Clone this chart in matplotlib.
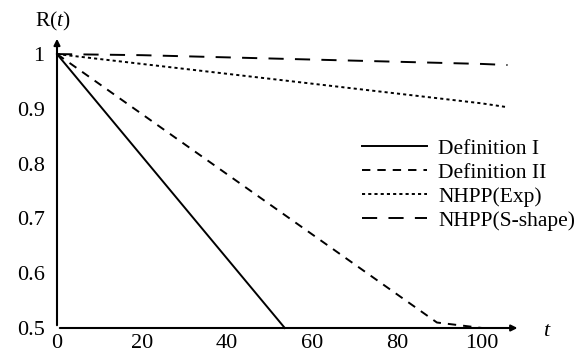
import matplotlib
matplotlib.use("Agg")
import matplotlib.pyplot as plt

plt.rcParams['font.family'] = ['Liberation Serif', 'DejaVu Serif']
plt.rcParams['mathtext.fontset'] = 'custom'
plt.rcParams['mathtext.rm'] = 'Liberation Serif'
plt.rcParams['mathtext.it'] = 'Liberation Serif:italic'

# values
t_def1 = [0, 53.6]
r_def1 = [1.0, 0.5]
t_def2 = [0, 89.4, 100]
r_def2 = [1.0, 0.51, 0.50]
t_nhpp = [0, 20, 40, 60, 80, 100, 106]
r_exp = [1.0, 0.982, 0.964, 0.946, 0.928, 0.910, 0.903]
r_sshape = [1.0, 0.998, 0.994, 0.990, 0.986, 0.982, 0.980]

xticks = [0, 20, 40, 60, 80, 100]
yticks = [0.5, 0.6, 0.7, 0.8, 0.9, 1.0]
yticklabels = ['0.5', '0.6', '0.7', '0.8', '0.9', '1']

W, H = 579, 362
fig = plt.figure(figsize=(W/100, H/100), dpi=100)
ax = fig.add_axes([57/W, 1-328/H, 450.5/W, (328-36)/H])

lw = 1.4
ax.plot(t_def1, r_def1, color='black', lw=lw, label='Definition I', clip_on=False)
ax.plot(t_def2, r_def2, color='black', lw=lw, linestyle=(0, (4.3, 3.6)), label='Definition II', clip_on=False)
ax.plot(t_nhpp, r_exp, color='black', lw=lw, linestyle=(0, (1.6, 1.6)), label='NHPP(Exp)', clip_on=False)
ax.plot(t_nhpp, r_sshape, color='black', lw=lw, linestyle=(0, (7.8, 5.8)), label='NHPP(S-shape)', clip_on=False)

ax.set_xlim(0, 106)
ax.set_ylim(0.5, 1.033)
for s in ax.spines.values():
    s.set_visible(False)

# axes drawn as arrows
ax.annotate('', xy=(109, 0.5), xytext=(0, 0.5), xycoords='data',
            arrowprops=dict(arrowstyle='-|>', color='black', lw=1.5, mutation_scale=9),
            annotation_clip=False)
ax.annotate('', xy=(0, 1.033), xytext=(0, 0.5), xycoords='data',
            arrowprops=dict(arrowstyle='-|>', color='black', lw=1.5, mutation_scale=9),
            annotation_clip=False)

ax.set_xticks(xticks)
ax.set_yticks(yticks)
ax.set_yticklabels(yticklabels)
ax.tick_params(length=0, labelsize=16)
ax.tick_params(axis='y', pad=9)
ax.tick_params(axis='x', pad=4)

fig.text(53/W, 1-21/H, 'R($t$)', fontsize=15.5, ha='center', va='center')
fig.text(547/W, 1-332/H, '$t$', fontsize=16, ha='center', va='center')

ax.legend(loc='upper left', bbox_to_anchor=(0.677, 0.648), frameon=False,
          fontsize=15.5, handlelength=3.0, handletextpad=0.55, labelspacing=0.18,
          borderaxespad=0, borderpad=0)

fig.savefig('out.png', dpi=100)
